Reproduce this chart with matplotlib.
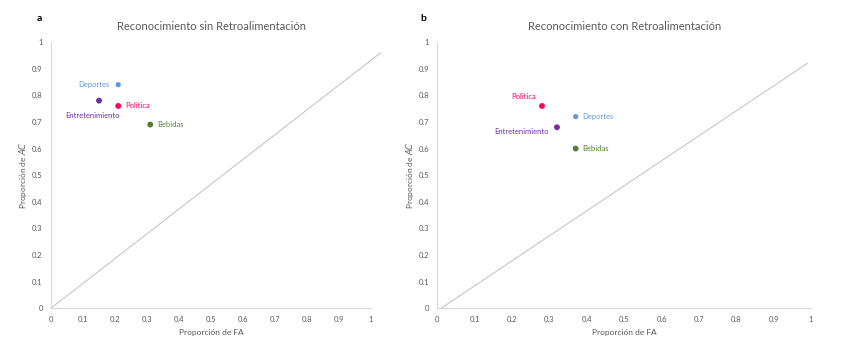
import matplotlib
matplotlib.use("Agg")
import matplotlib.pyplot as plt

plt.rcParams['font.family'] = ['Lato', 'DejaVu Sans']

categorias = ["Deportes", "Política", "Entretenimiento", "Bebidas"]
colores = ["#5B9BD5", "#FF0066", "#7030A0", "#548235"]

# panel a: sin retroalimentacion
fa_sin = [0.21, 0.21, 0.15, 0.31]
ac_sin = [0.84, 0.76, 0.78, 0.69]
# panel b: con retroalimentacion
fa_con = [0.37, 0.28, 0.32, 0.37]
ac_con = [0.72, 0.76, 0.68, 0.60]

# linea de referencia (azar)
ref_sin_x = [0.0, 1.03]
ref_sin_y = [0.0, 0.96]
ref_con_x = [0.01, 0.99]
ref_con_y = [0.0, 0.92]

ticks = [0, 0.1, 0.2, 0.3, 0.4, 0.5, 0.6, 0.7, 0.8, 0.9, 1]
tick_txt = ["0", "0.1", "0.2", "0.3", "0.4", "0.5", "0.6", "0.7", "0.8", "0.9", "1"]

# offsets de las etiquetas (puntos) y alineacion
etq_sin = [(-6, 0, 'right'), (5, 0, 'left'), (-5, -11, 'center'), (5, 0, 'left')]
etq_con = [(5, 0, 'left'), (-4, 7, 'right'), (-6, -3, 'right'), (5, 0, 'left')]

fig = plt.figure(figsize=(8.51, 3.6), dpi=100)
ax1 = fig.add_axes([0.060, 0.144, 0.376, 0.739])
ax2 = fig.add_axes([0.514, 0.144, 0.439, 0.739])

paneles = [
    (ax1, fa_sin, ac_sin, ref_sin_x, ref_sin_y, etq_sin, "Reconocimiento sin Retroalimentación", "a"),
    (ax2, fa_con, ac_con, ref_con_x, ref_con_y, etq_con, "Reconocimiento con Retroalimentación", "b"),
]

for ax, xs, ys, rx, ry, etq, titulo, letra in paneles:
    ax.plot(rx, ry, color="#BFBFBF", lw=0.7, clip_on=False)
    for i in range(len(categorias)):
        s = 14 if i == 0 else 18
        ax.scatter(xs[i], ys[i], color=colores[i], s=s, zorder=3, edgecolors='none')
        dx, dy, ha = etq[i]
        ax.annotate(categorias[i], (xs[i], ys[i]), xytext=(dx, dy), textcoords='offset points',
                    ha=ha, va='center', fontsize=5.5, color=colores[i])
    ax.set_xlim(0, 1)
    ax.set_ylim(0, 1)
    ax.set_xticks(ticks)
    ax.set_xticklabels(tick_txt)
    ax.set_yticks(ticks)
    ax.set_yticklabels(tick_txt)
    ax.tick_params(length=0, labelsize=5.5, labelcolor="#595959", pad=6)
    for sp in ['top', 'right']:
        ax.spines[sp].set_visible(False)
    for sp in ['left', 'bottom']:
        ax.spines[sp].set_color("#D9D9D9")
        ax.spines[sp].set_linewidth(0.8)
    ax.set_xlabel("Proporción de FA", fontsize=6, color="#595959", labelpad=4)
    ax.set_ylabel("Proporción de $\\it{AC}$", fontsize=6, color="#595959", labelpad=2)
    ax.set_title(titulo, fontsize=8, color="#595959", pad=9)
    ax.text(-0.03, 1.07, letra, transform=ax.transAxes, fontsize=7.5, fontweight='bold',
            ha='right', va='bottom')

fig.savefig("out.png", dpi=100)
